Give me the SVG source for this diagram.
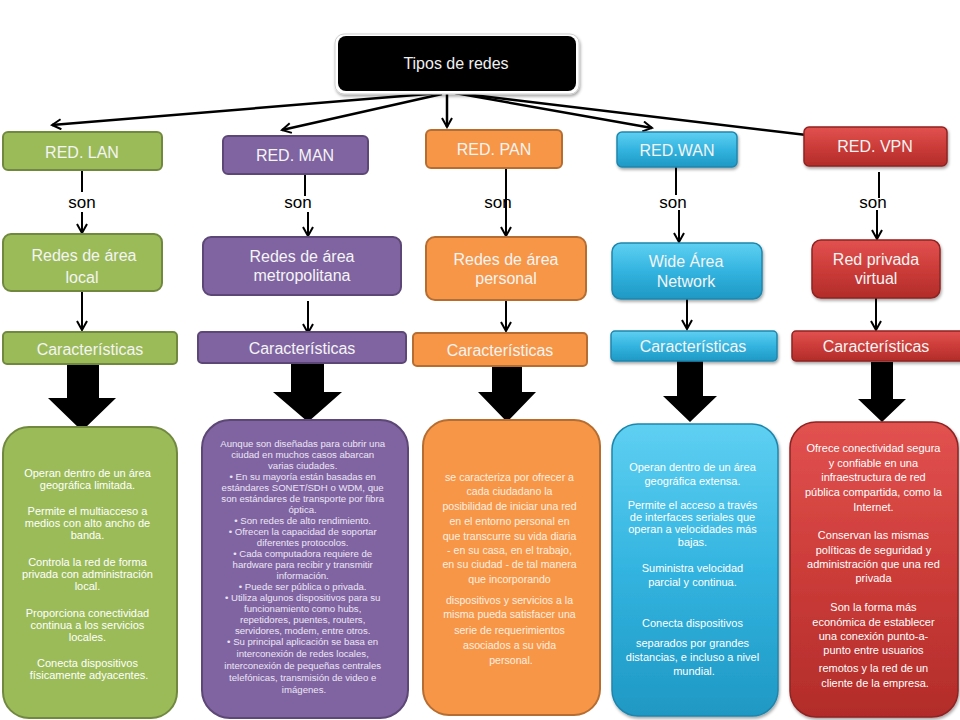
<svg xmlns="http://www.w3.org/2000/svg" width="960" height="720" viewBox="0 0 960 720">
<defs>
<style>
text{font-family:"Liberation Sans",Arial,sans-serif;text-anchor:middle}
.hdr{font-size:16px;fill:#f4f4f4}
.son{font-size:17px;fill:#000}
.body{font-size:11px;fill:#ffffff}
.man{font-size:9.6px;fill:#ece6f4}
.pan{font-size:10.6px;fill:#fdeee0}
.conn{stroke:#000;stroke-width:2;fill:none}
.top{stroke:#000;stroke-width:2.5;fill:none}
.big{fill:#000}
.lan{fill:#9bbb59;stroke:#71893f;stroke-width:2}
.manf{fill:#8064a2;stroke:#5c4776;stroke-width:2}
.panf{fill:#f79646;stroke:#b66d31;stroke-width:2}
.wanf{fill:url(#gw);stroke:#1f86ad;stroke-width:1.5}
.vpnf{fill:url(#gv);stroke:#8f2422;stroke-width:1.5}
</style>
<linearGradient id="gw" x1="0" y1="0" x2="0" y2="1">
<stop offset="0" stop-color="#5fd0f2"/><stop offset="0.5" stop-color="#33b4e0"/><stop offset="1" stop-color="#1f98c4"/>
</linearGradient>
<linearGradient id="gv" x1="0" y1="0" x2="0" y2="1">
<stop offset="0" stop-color="#e2524f"/><stop offset="0.5" stop-color="#cc3c39"/><stop offset="1" stop-color="#b22c29"/>
</linearGradient>
<filter id="sh" x="-10%" y="-10%" width="130%" height="130%">
<feDropShadow dx="1" dy="2" stdDeviation="1.5" flood-color="#000" flood-opacity="0.35"/>
</filter>
<marker id="ah" markerWidth="12" markerHeight="12" refX="10" refY="6" orient="auto" markerUnits="userSpaceOnUse">
<path d="M1,1 L10,6 L1,11" fill="none" stroke="#000" stroke-width="2"/>
</marker>
</defs>
<rect width="960" height="720" fill="#fff"/>

<g id="connectors">
<line class="top" x1="440" y1="93" x2="52" y2="125" marker-end="url(#ah)"/>
<line class="top" x1="442" y1="94" x2="282" y2="130" marker-end="url(#ah)"/>
<line class="top" x1="447" y1="93" x2="447" y2="127" marker-end="url(#ah)"/>
<line class="top" x1="455" y1="93" x2="652" y2="128" marker-end="url(#ah)"/>
<line class="top" x1="456" y1="93" x2="815" y2="136" marker-end="url(#ah)"/>

<line class="conn" x1="82" y1="170" x2="82" y2="192"/>
<line class="conn" x1="82" y1="212" x2="82" y2="233" marker-end="url(#ah)"/>
<line class="conn" x1="305" y1="174" x2="305" y2="196"/>
<line class="conn" x1="308" y1="212" x2="308" y2="236" marker-end="url(#ah)"/>
<line class="conn" x1="506" y1="168" x2="506" y2="212"/>
<line class="conn" x1="506" y1="212" x2="506" y2="236" marker-end="url(#ah)"/>
<line class="conn" x1="676" y1="167" x2="676" y2="195"/>
<line class="conn" x1="679" y1="210" x2="679" y2="242" marker-end="url(#ah)"/>
<line class="conn" x1="879" y1="172" x2="879" y2="198"/>
<line class="conn" x1="877" y1="210" x2="877" y2="239" marker-end="url(#ah)"/>

<line class="conn" x1="82" y1="291" x2="82" y2="330" marker-end="url(#ah)"/>
<line class="conn" x1="308" y1="301" x2="308" y2="333" marker-end="url(#ah)"/>
<line class="conn" x1="506" y1="300" x2="506" y2="331" marker-end="url(#ah)"/>
<line class="conn" x1="687" y1="299" x2="687" y2="329" marker-end="url(#ah)"/>
<line class="conn" x1="876" y1="298" x2="876" y2="330" marker-end="url(#ah)"/>

<polygon class="big" points="67,363 99,363 99,398 116,398 82,431 48,398 67,398"/>
<polygon class="big" points="291,363 324,363 324,392 342,392 308,422 273,392 291,392"/>
<polygon class="big" points="492,365 522,365 522,392 536,392 507,422 478,392 492,392"/>
<polygon class="big" points="677,360 703,360 703,396 717,396 690,422 663,396 677,396"/>
<polygon class="big" points="871,362 893,362 893,399 906,399 882,422 858,399 871,399"/>

<text class="son" x="82" y="208">son</text>
<text class="son" x="298" y="208">son</text>
<text class="son" x="498" y="208">son</text>
<text class="son" x="673" y="208">son</text>
<text class="son" x="873" y="208">son</text>
</g>

<g id="root">
<rect x="335" y="34" width="244" height="60" rx="9" fill="#fff" stroke="#cfcfcf" stroke-width="1" filter="url(#sh)"/>
<rect x="338" y="36" width="238" height="55" rx="8" fill="#000"/>
<text class="hdr" x="456" y="69" style="fill:#f0f0f0">Tipos de redes</text>
</g>

<g id="lan">
<rect class="lan" x="3" y="132" width="159" height="38" rx="5"/>
<text class="hdr" x="82" y="158">RED. LAN</text>
<rect class="lan" x="3" y="234" width="159" height="57" rx="8"/>
<text class="hdr" x="84" y="261">Redes de área</text>
<text class="hdr" x="82" y="283">local</text>
<rect class="lan" x="3" y="332" width="174" height="32" rx="4"/>
<text class="hdr" x="90" y="355">Características</text>
<rect class="lan" x="3" y="427" width="174" height="291" rx="26"/>
<text class="body">
<tspan x="89" y="477">Operan dentro de un área</tspan>
<tspan x="89" y="489">geográfica limitada.</tspan>
<tspan x="89" y="515">Permite el multiacceso a</tspan>
<tspan x="89" y="527">medios con alto ancho de</tspan>
<tspan x="89" y="539">banda.</tspan>
<tspan x="89" y="566">Controla la red de forma</tspan>
<tspan x="89" y="578">privada con administración</tspan>
<tspan x="89" y="590">local.</tspan>
<tspan x="89" y="617">Proporciona conectividad</tspan>
<tspan x="89" y="629">continua a los servicios</tspan>
<tspan x="89" y="641">locales.</tspan>
<tspan x="89" y="667">Conecta dispositivos</tspan>
<tspan x="89" y="679">físicamente adyacentes.</tspan>
</text>
</g>

<g id="man">
<rect class="manf" x="223" y="136" width="145" height="38" rx="5"/>
<text class="hdr" x="295" y="161">RED. MAN</text>
<rect class="manf" x="203" y="237" width="198" height="58" rx="8"/>
<text class="hdr" x="302" y="262">Redes de área</text>
<text class="hdr" x="302" y="281">metropolitana</text>
<rect class="manf" x="198" y="332" width="208" height="31" rx="4"/>
<text class="hdr" x="302" y="354">Características</text>
<rect class="manf" x="202" y="420" width="206" height="298" rx="28"/>
<text class="man">
<tspan x="304" y="447">Aunque son diseñadas para cubrir una</tspan>
<tspan x="304" y="458">ciudad en muchos casos abarcan</tspan>
<tspan x="304" y="469">varias ciudades.</tspan>
<tspan x="304" y="480">• En su mayoría están basadas en</tspan>
<tspan x="304" y="491">estándares SONET/SDH o WDM, que</tspan>
<tspan x="304" y="502">son estándares de transporte por fibra</tspan>
<tspan x="304" y="513">óptica.</tspan>
<tspan x="304" y="524">• Son redes de alto rendimiento.</tspan>
<tspan x="304" y="535">• Ofrecen la capacidad de soportar</tspan>
<tspan x="304" y="546">diferentes protocolos.</tspan>
<tspan x="304" y="557">• Cada computadora requiere de</tspan>
<tspan x="304" y="568">hardware para recibir y transmitir</tspan>
<tspan x="304" y="579">información.</tspan>
<tspan x="304" y="590">• Puede ser pública o privada.</tspan>
<tspan x="304" y="601">• Utiliza algunos dispositivos para su</tspan>
<tspan x="304" y="612">funcionamiento como hubs,</tspan>
<tspan x="304" y="623">repetidores, puentes, routers,</tspan>
<tspan x="304" y="634">servidores, modem, entre otros.</tspan>
<tspan x="304" y="645">• Su principal aplicación se basa en</tspan>
<tspan x="304" y="657">interconexión de redes locales,</tspan>
<tspan x="304" y="669">interconexión de pequeñas centrales</tspan>
<tspan x="304" y="681">telefónicas, transmisión de video e</tspan>
<tspan x="304" y="693">imágenes.</tspan>
</text>
</g>

<g id="pan">
<rect class="panf" x="426" y="130" width="136" height="38" rx="5"/>
<text class="hdr" x="494" y="155">RED. PAN</text>
<rect class="panf" x="426" y="237" width="160" height="63" rx="9"/>
<text class="hdr" x="506" y="265">Redes de área</text>
<text class="hdr" x="506" y="284">personal</text>
<rect class="panf" x="413" y="333" width="174" height="33" rx="4"/>
<text class="hdr" x="500" y="356">Características</text>
<rect class="panf" x="423" y="420" width="177" height="295" rx="26"/>
<text class="pan">
<tspan x="511" y="481">se caracteriza por ofrecer a</tspan>
<tspan x="511" y="495">cada ciudadano la</tspan>
<tspan x="511" y="510">posibilidad de iniciar una red</tspan>
<tspan x="511" y="525">en el entorno personal en</tspan>
<tspan x="511" y="540">que transcurre su vida diaria</tspan>
<tspan x="511" y="554">- en su casa, en el trabajo,</tspan>
<tspan x="511" y="568">en su ciudad - de tal manera</tspan>
<tspan x="511" y="583">que incorporando</tspan>
<tspan x="511" y="604">dispositivos y  servicios a la</tspan>
<tspan x="511" y="618">misma pueda satisfacer una</tspan>
<tspan x="511" y="634">serie de requerimientos</tspan>
<tspan x="511" y="649">asociados a su vida</tspan>
<tspan x="511" y="664">personal.</tspan>
</text>
</g>

<g id="wan">
<rect class="wanf" x="617" y="132" width="120" height="35" rx="5" filter="url(#sh)"/>
<text class="hdr" x="677" y="156">RED.WAN</text>
<rect class="wanf" x="612" y="243" width="150" height="56" rx="9" filter="url(#sh)"/>
<text class="hdr" x="686" y="267">Wide Área</text>
<text class="hdr" x="686" y="287">Network</text>
<rect class="wanf" x="611" y="331" width="166" height="30" rx="4" filter="url(#sh)"/>
<text class="hdr" x="693" y="352">Características</text>
<rect class="wanf" x="612" y="424" width="166" height="292" rx="26" filter="url(#sh)"/>
<text class="body">
<tspan x="694" y="471">Operan dentro de un área</tspan>
<tspan x="694" y="485">geográfica extensa.</tspan>
<tspan x="694" y="509">Permite el acceso a través</tspan>
<tspan x="694" y="521">de interfaces seriales que</tspan>
<tspan x="694" y="533">operan a velocidades más</tspan>
<tspan x="694" y="546">bajas.</tspan>
<tspan x="694" y="572">Suministra velocidad</tspan>
<tspan x="694" y="586">parcial y continua.</tspan>
<tspan x="694" y="627">Conecta dispositivos</tspan>
<tspan x="694" y="647">separados por  grandes</tspan>
<tspan x="694" y="661">distancias, e incluso a nivel</tspan>
<tspan x="694" y="675">mundial.</tspan>
</text>
</g>

<g id="vpn">
<rect class="vpnf" x="804" y="127" width="143" height="39" rx="5" filter="url(#sh)"/>
<text class="hdr" x="875" y="152">RED. VPN</text>
<rect class="vpnf" x="812" y="240" width="128" height="58" rx="9" filter="url(#sh)"/>
<text class="hdr" x="876" y="265">Red privada</text>
<text class="hdr" x="876" y="284">virtual</text>
<rect class="vpnf" x="792" y="331" width="172" height="30" rx="4" filter="url(#sh)"/>
<text class="hdr" x="876" y="352">Características</text>
<rect class="vpnf" x="790" y="422" width="168" height="295" rx="26" filter="url(#sh)"/>
<text class="body">
<tspan x="875" y="452">Ofrece conectividad segura</tspan>
<tspan x="875" y="467">y confiable en una</tspan>
<tspan x="875" y="481">infraestructura de red</tspan>
<tspan x="875" y="496">pública compartida, como la</tspan>
<tspan x="875" y="511">Internet.</tspan>
<tspan x="875" y="539">Conservan las mismas</tspan>
<tspan x="875" y="554">políticas de seguridad y</tspan>
<tspan x="875" y="568">administración que una red</tspan>
<tspan x="875" y="582">privada</tspan>
<tspan x="875" y="611">Son la forma más</tspan>
<tspan x="875" y="626">económica de establecer</tspan>
<tspan x="875" y="640">una conexión punto-a-</tspan>
<tspan x="875" y="654">punto entre usuarios</tspan>
<tspan x="875" y="672">remotos y la red de  un</tspan>
<tspan x="875" y="687">cliente de la empresa.</tspan>
</text>
</g>
</svg>
